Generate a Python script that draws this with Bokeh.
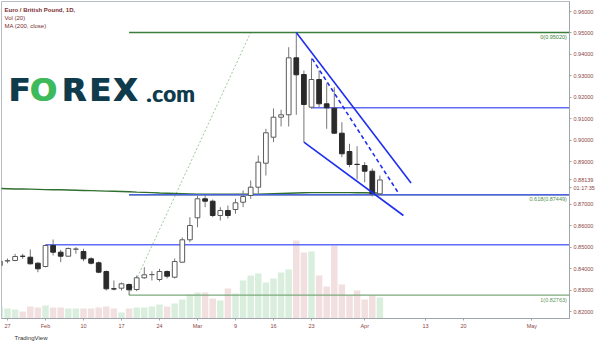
from bokeh.plotting import figure
from bokeh.models import Range1d, FixedTicker, Label, ColumnDataSource, PrintfTickFormatter, Title
from bokeh.embed import file_html
from bokeh.resources import INLINE

# ---------------- data ----------------
bar_index = list(range(-1, 50))   # trading-day index, 0 = Jan 27 2020
opens = [0.84147, 0.84360, 0.84381, 0.84581, 0.84535, 0.84255, 0.84101, 0.85081, 0.84768, 0.84581,
         0.84908, 0.84801, 0.84460, 0.84273, 0.83867, 0.83060, 0.83088, 0.83261, 0.83027, 0.83573,
         0.83720, 0.83494, 0.83867, 0.83601, 0.84301, 0.85347, 0.86373, 0.87260, 0.87148, 0.86481,
         0.86714, 0.86760, 0.87101, 0.87414, 0.87801, 0.88921, 0.90134, 0.91068, 0.91180, 0.93839,
         0.93060, 0.91534, 0.92827, 0.91693, 0.91488, 0.90321, 0.89467, 0.88870, 0.88814, 0.88548,
         0.87493]
highs = [0.84475, 0.84475, 0.84693, 0.84693, 0.84894, 0.84301, 0.85120, 0.85361, 0.84880, 0.84987,
         0.85001, 0.84927, 0.84535, 0.84334, 0.83914, 0.83447, 0.83354, 0.83307, 0.83681, 0.84068,
         0.83881, 0.83993, 0.83914, 0.84474, 0.85454, 0.86401, 0.87414, 0.87447, 0.87227, 0.86868,
         0.86947, 0.87260, 0.87647, 0.88114, 0.89280, 0.90526, 0.91474, 0.91413, 0.94334, 0.95020,
         0.93247, 0.93820, 0.93247, 0.92654, 0.92467, 0.90834, 0.89826, 0.89714, 0.88968, 0.88674,
         0.88347]
lows = [0.83835, 0.84255, 0.84348, 0.84460, 0.84194, 0.83835, 0.84060, 0.84614, 0.84301, 0.84567,
        0.84693, 0.84348, 0.84194, 0.83788, 0.82981, 0.82981, 0.82981, 0.82763, 0.82948, 0.83527,
        0.83447, 0.83401, 0.83541, 0.83541, 0.84287, 0.85235, 0.85935, 0.86868, 0.86401, 0.86247,
        0.86341, 0.86560, 0.86868, 0.87260, 0.87493, 0.88347, 0.89901, 0.90634, 0.90634, 0.91180,
        0.89901, 0.91460, 0.91534, 0.90526, 0.90293, 0.89201, 0.88735, 0.88161, 0.88035, 0.87367,
        0.87460]
closes = [0.84348, 0.84372, 0.84567, 0.84575, 0.84227, 0.83993, 0.85081, 0.84768, 0.84581, 0.84941,
          0.84915, 0.84460, 0.84255, 0.83835, 0.83060, 0.83050, 0.83293, 0.83013, 0.83573, 0.83713,
          0.83727, 0.83867, 0.83648, 0.84334, 0.85347, 0.86014, 0.87260, 0.87148, 0.86481, 0.86714,
          0.86481, 0.87073, 0.87367, 0.87801, 0.88968, 0.90340, 0.91068, 0.91180, 0.93839, 0.93046,
          0.91660, 0.92827, 0.91693, 0.91506, 0.90321, 0.89360, 0.88860, 0.88860, 0.88548, 0.87493,
          0.88139]
volumes = [12, 10, 9, 7, 12, 11, 13, 11, 11, 10,
           10, 10, 10, 11, 12, 10, 6, 10, 11, 11,
           12, 14, 12, 15, 19, 24, 26, 26, 20, 18,
           30, 25, 38, 43, 45, 36, 40, 46, 49, 78,
           66, 67, 43, 32, 73, 34, 23, 28, 19, 23,
           21]
ma200 = [0.8774, 0.8773, 0.8772, 0.8772, 0.8771, 0.8770, 0.8769, 0.8768, 0.8768, 0.8767,
         0.8766, 0.8765, 0.8764, 0.8763, 0.8762, 0.8761, 0.8760, 0.8759, 0.8757, 0.8756,
         0.8755, 0.8753, 0.8752, 0.8751, 0.8750, 0.8749, 0.8748, 0.8748, 0.8747, 0.8747,
         0.8747, 0.8747, 0.8747, 0.8748, 0.8748, 0.8749, 0.8750, 0.8751, 0.8752, 0.8753,
         0.8754, 0.8755, 0.8755, 0.8755, 0.8755, 0.8755, 0.8755, 0.8754, 0.8754, 0.8753,
         0.8753]

date_tick_pos = [0, 5, 10, 15, 20, 25, 30, 35, 40, 47, 55, 60, 69]
date_tick_labels = ["27", "Feb", "10", "17", "24", "Mar", "9", "16", "23", "Apr", "13", "20", "May"]
# 0.88 is hidden behind the last-price tag in the original
price_ticks = [0.82, 0.83, 0.84, 0.85, 0.86, 0.87, 0.89, 0.90, 0.91, 0.92, 0.93, 0.94, 0.95, 0.96]

last_price = 0.88139
last_price_text = "0.88139"
countdown_at = 0.87766          # price level at which the countdown sits on the scale
countdown = "01:17:35"

# Fibonacci retracement (anchors: low Feb 18, high Mar 19)
fib_anchor_x = [16, 32]
fib_anchor_y = [0.82763, 0.95020]
fib_levels = [0.95020, 0.87449, 0.82763]
fib_labels = ["0(0.95020)", "0.618(0.87449)", "1(0.82763)"]
fib_start = [16, 16, 16]

# user drawn horizontal levels
hline_y = [0.85113, 0.91506, 0.87449]
hline_start = [5, 40, 16]

# falling wedge
wedge_upper_x = [38, 53.1]
wedge_upper_y = [0.95020, 0.88000]
wedge_lower_x = [39, 52.1]
wedge_lower_y = [0.89901, 0.86481]
wedge_mid_x = [40.1, 51.5]
wedge_mid_y = [0.93793, 0.87493]

# ---------------- figure ----------------
FW, FB = 1, 318   # frame left / bottom in canvas px (for screen-unit labels)

p = figure(width=600, height=348, output_backend="svg", toolbar_location=None,
           x_range=Range1d(-0.79, 73.95), y_range=Range1d(0.81674, 0.96467),
           y_axis_location="right",
           min_border_left=1, min_border_top=1, min_border_right=31, min_border_bottom=30,
           background_fill_color="white", border_fill_color="white",
           outline_line_color="#b8bcc4")
p.grid.visible = False

yax = p.yaxis[0]
yax.ticker = FixedTicker(ticks=sorted(price_ticks + [last_price, countdown_at]))
yax.formatter = PrintfTickFormatter(format="%.5f")
yax.major_label_overrides = {last_price: last_price_text, countdown_at: countdown}
yax.major_label_text_font_size = "5.5px"
yax.major_label_text_color = "#8b4545"
yax.major_label_text_font = "Liberation Sans"
yax.major_tick_out = 2
yax.major_tick_in = 0
yax.minor_tick_out = 0
yax.minor_tick_in = 0
yax.major_label_standoff = 2
yax.axis_line_color = "#a0a4ac"
yax.major_tick_line_color = "#a0a4ac"

xax = p.xaxis[0]
xax.ticker = FixedTicker(ticks=date_tick_pos)
xax.major_label_overrides = {pos: lab for pos, lab in zip(date_tick_pos, date_tick_labels)}
xax.major_label_text_font_size = "5.5px"
xax.major_label_text_color = "#8b4545"
xax.major_label_text_font = "Liberation Sans"
xax.major_tick_out = 2
xax.major_tick_in = 0
xax.minor_tick_out = 0
xax.minor_tick_in = 0
xax.major_label_standoff = 2
xax.axis_line_color = "#a0a4ac"
xax.major_tick_line_color = "#a0a4ac"

# volume (overlay, own scale)
p.extra_y_ranges = {"vol": Range1d(0, 317)}
up = [c >= o for o, c in zip(opens, closes)]
src = ColumnDataSource(dict(
    x=bar_index, open=opens, high=highs, low=lows, close=closes, vol=volumes,
    top=[max(o, c) for o, c in zip(opens, closes)],
    bottom=[min(o, c) for o, c in zip(opens, closes)],
    body=["#ffffff" if u else "#2a2a2a" for u in up],
    edge=["#5a5a5a" if u else "#2a2a2a" for u in up],
    volc=["#d9eedd" if u else "#f2dfe0" for u in up],
))
p.vbar(x="x", top="vol", bottom=0, width=0.85, y_range_name="vol",
       fill_color="volc", line_color=None, source=src)

# fib lines
p.line(fib_anchor_x, fib_anchor_y, line_color="#9fc79f", line_width=1, line_dash="2 2")
fib_src = ColumnDataSource(dict(x=fib_start, y=fib_levels,
                                c=["#3b7d3b", "#4f8f4f", "#7aa87a"]))
p.ray(x="x", y="y", length=0, angle=0, line_color="c", line_width=1.3, source=fib_src)

# MA 200
p.line(bar_index, ma200, line_color="#2f6f2f", line_width=1.4)

# horizontal blue levels
p.ray(x=hline_start, y=hline_y, length=0, angle=0, line_color="#4f5cf5",
      line_width=1.6, line_alpha=0.9)

# candles
p.segment(x0="x", y0="high", x1="x", y1="low", line_color="#777777", line_width=1, source=src)
p.vbar(x="x", top="top", bottom="bottom", width=0.62, fill_color="body",
       line_color="edge", line_width=1, source=src)

# wedge
p.line(wedge_upper_x, wedge_upper_y, line_color="#1f2ff0", line_width=1.6)
p.line(wedge_lower_x, wedge_lower_y, line_color="#1f2ff0", line_width=1.6)
p.line(wedge_mid_x, wedge_mid_y, line_color="#1f2ff0", line_width=1.6, line_dash="4 3")

# fib labels
for lvl, lab, col in zip(fib_levels, fib_labels, ["#3b7d3b", "#4f8f4f", "#5f9a5f"]):
    p.add_layout(Label(x=73.6, y=lvl, text=lab, text_align="right", text_baseline="top",
                       y_offset=-1.5, text_font_size="5.5px", text_color=col,
                       text_font="Liberation Sans"))

def canvas_label(x, y, text, **kw):
    p.add_layout(Label(x=x - FW, y=FB - y, x_units="screen", y_units="screen",
                       text=text, text_baseline="middle", **kw))

# header texts
canvas_label(4, 9, "Euro / British Pound, 1D,", text_font_size="6px", text_font_style="bold",
             text_color="#7a2e2e", text_font="Liberation Sans")
canvas_label(4, 17, "Vol (20)", text_font_size="6px", text_color="#7a2e2e",
             text_font="Liberation Sans")
canvas_label(4, 25, "MA (200, close)", text_font_size="6px", text_color="#7a2e2e",
             text_font="Liberation Sans")

# FOREX.com logo (letters placed individually, double-struck for a heavy weight)
for xx, t, col in [(7.7, "F", "#0f3b4c"), (29, "O", "#3dba5c"), (61, "R", "#0f3b4c"),
                   (88.5, "E", "#0f3b4c"), (112.3, "X", "#0f3b4c")]:
    for dx in (0, 1):
        canvas_label(xx + dx, 89.5, t, text_color=col, text_font_size="32px",
                     text_font_style="bold", text_font="DejaVu Sans")
for xx, t in [(145.5, "."), (151.5, "c"), (162.5, "o"), (175.5, "m")]:
    for dx in (0, 0.8):
        canvas_label(xx + dx, 93, t, text_color="#0f3b4c", text_font_size="22px",
                     text_font_style="bold", text_font="Lato")

# TradingView footer
p.add_layout(Title(text="TradingView", align="left", offset=13, standoff=2,
                   text_font_size="6px", text_font_style="normal", text_color="#333333",
                   text_font="Liberation Sans"), "below")

open("out.html", "w").write(file_html(p, INLINE))
